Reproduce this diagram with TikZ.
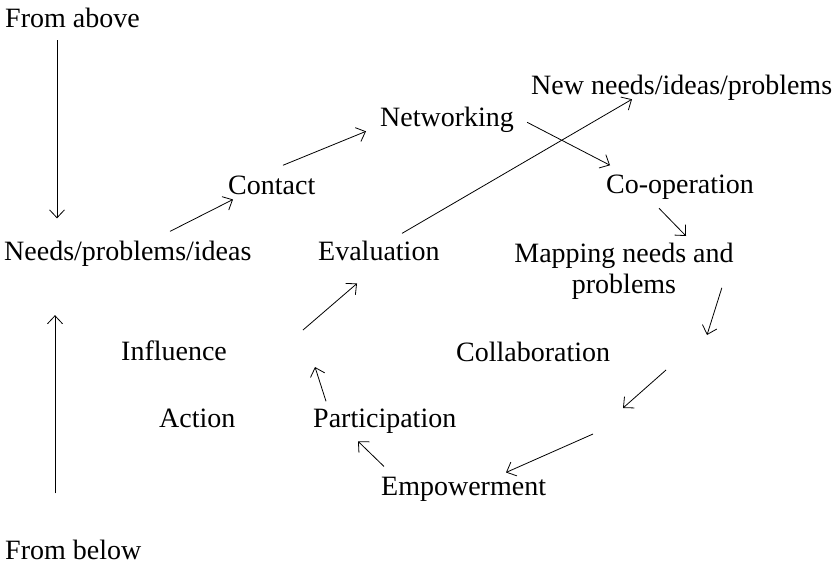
\documentclass[tikz,border=0pt]{standalone}
\usepackage{fontspec}
\setmainfont{Liberation Serif}
\usetikzlibrary{arrows.meta}
\tikzstyle{phase} = [inner sep=0pt,
anchor=base west,
font=\fontsize{28}{31}\selectfont]
\tikzstyle{arrow} = [line width=0.8pt, -{Straight Barb[length=8pt,width=15pt]}]

\begin{document}
\begin{tikzpicture}[x=1pt, y=-1pt]
    \useasboundingbox (0,0) rectangle (834,565);
    \node (above) [phase] at (5,27) {From above};
    \node (needs) [phase] at (4,260) {Needs/problems/ideas};
    \node (below) [phase] at (5,559) {From below};
    \node (contact) [phase] at (228,194) {Contact};
    \node (networking) [phase] at (380,126) {Networking};
    \node (newneeds) [phase] at (531,94) {New needs/ideas/problems};
    \node (coop) [phase] at (606,193) {Co-operation};
    \node (eval) [phase] at (318,260) {Evaluation};
    \node (mapping) [phase, anchor=north, align=center] at (624,243) {Mapping needs and\\ problems};
    \node (influence) [phase] at (121,360) {Influence};
    \node (collab) [phase] at (456,361) {Collaboration};
    \node (action) [phase] at (159,427) {Action};
    \node (participation) [phase] at (313,427) {Participation};
    \node (empowerment) [phase] at (381,495) {Empowerment};

    % free ends of the loop
    \coordinate (mapdown) at (707,335);
    \coordinate (collabtop) at (666,370);
    \coordinate (collabbot) at (623,408);
    \coordinate (empstart) at (593,434);
    \coordinate (partup) at (315,367);
    \coordinate (evalstart) at (303,330);

    \draw [arrow, shorten <=13pt, shorten >=22pt] ([xshift=52pt]above.south west) -- ([xshift=53pt]needs.north west);
    \draw [arrow, shorten <=46pt, shorten >=49pt] ([xshift=50pt]below.north west) -- ([xshift=51pt]needs.south west);
    \draw [arrow] ([shift={(166,-9)}]needs.north west) -- ([shift={(5,5)}]contact.south west);
    \draw [arrow] ([shift={(55,-10)}]contact.north west) -- ([shift={(-14,-0.9)}]networking.south west);
    \draw [arrow] ([shift={(13,3)}]networking.east) -- ([shift={(4,-9)}]coop.north west);
    \draw [arrow] ([shift={(84,-7)}]eval.north west) -- ([shift={(101,-0.9)}]newneeds.south west);
    \draw [arrow] ([shift={(53,9.1)}]coop.south west) -- ([shift={(62,-7)}]mapping.north);
    \draw [arrow] ([shift={(-12,-12)}]mapping.south east) -- (mapdown);
    \draw [arrow] (collabtop) -- (collabbot);
    \draw [arrow] (empstart) -- ([shift={(125,-4)}]empowerment.north west);
    \draw [arrow] ([shift={(3,-10)}]empowerment.north west) -- ([shift={(45,8.1)}]participation.south west);
    \draw [arrow] ([shift={(13,-7)}]participation.north west) -- (partup);
    \draw [arrow] (evalstart) -- ([shift={(39,23)}]eval.south west);
\end{tikzpicture}
\end{document}
